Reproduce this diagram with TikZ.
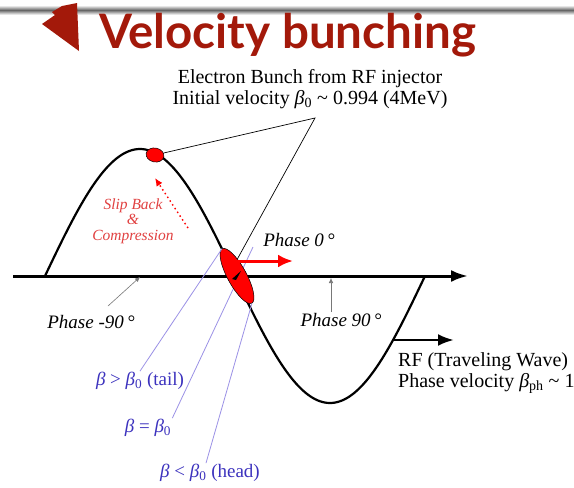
\documentclass[tikz,border=0pt]{standalone}
\usepackage{fontspec}
\setmainfont{Liberation Serif}
\newfontfamily\titlefont{Lato}
\usetikzlibrary{arrows.meta,shapes.geometric}
\definecolor{titlered}{RGB}{163,25,10}
\definecolor{slipred}{RGB}{225,65,65}
\definecolor{labblue}{RGB}{60,50,190}
\definecolor{lavender}{RGB}{155,145,230}
\definecolor{leadgray}{RGB}{120,120,120}
\tikzset{
  txt/.style={font=\fontsize{20}{21}\selectfont, inner sep=1pt},
  phaselab/.style={font=\fontsize{19}{21}\selectfont\itshape, inner sep=1pt},
  bluelab/.style={font=\fontsize{19}{21}\selectfont, text=labblue, inner sep=1pt},
  lav/.style={draw=lavender, line width=0.8pt},
  thinblack/.style={draw=black, line width=0.7pt},
  leader/.style={draw=leadgray, line width=0.6pt, -{Latex[length=5pt,width=4.5pt]}},
  bunchstyle/.style={ellipse, draw=black, line width=0.5pt, fill=red, inner sep=0pt},
}
\begin{document}
\begin{tikzpicture}[x=1pt,y=-1pt]
\useasboundingbox (0,0) rectangle (574,488);
\fill[white] (0,0) rectangle (574,488);
% header bar
\shade[top color=gray!20, bottom color=gray!20, middle color=gray!80!black] (0,6) rectangle (574,14);
\fill[titlered] (42,24) -- (55,15) -- (52,12) -- (62,6) -- (77,3) -- (79,51) -- cycle;
\node[anchor=base west, inner sep=0pt, text=titlered, font=\titlefont\bfseries\fontsize{47.5}{50}\selectfont] (title) at (99,48) {Velocity bunching};

% axis
\coordinate (axl) at (13,276);
\coordinate (axr) at (468,276);
\draw[line width=3pt, -{Latex[length=17pt,width=12pt]}] (axl) -- (axr);

% wave
\draw[line width=2.2pt, line join=round] plot[domain=45:425, samples=160] (\x, {276-127*sin(0.9473684*(\x-45))});

% RF arrow
\coordinate (rfs) at (393,340);
\coordinate (rfe) at (454,340);
\draw[line width=2.8pt, -{Latex[length=16pt,width=12pt]}] (rfs) -- (rfe);

% labels
\node[txt, align=center] (inj) at (310,89) {Electron Bunch from RF injector\\Initial velocity \textit{β}\textsubscript{0} \textasciitilde{} 0.994 (4MeV)};
\node[txt, align=left, anchor=west] (rf) at (397,373) {RF (Traveling Wave)\\Phase velocity \textit{β}\textsubscript{ph} \textasciitilde{} 1};

\node[phaselab] (pm90) at (91,322) {Phase -90\,°};
\node[phaselab] (p90) at (341,320) {Phase 90\,°};
\node[phaselab] (p0) at (299,240) {Phase 0\,°};

\node[bluelab] (tail) at (140,381) {\textit{β} > \textit{β}\textsubscript{0} (tail)};
\node[bluelab] (eq) at (148,428) {\textit{β} = \textit{β}\textsubscript{0}};
\node[bluelab] (head) at (210,473) {\textit{β} < \textit{β}\textsubscript{0} (head)};

\node[font=\fontsize{15.5}{15.5}\selectfont\itshape, text=slipred, align=center, inner sep=0pt] (slip) at (133,221) {Slip Back\\\&\\Compression};

% leaders to axis ticks
\coordinate (tm90) at (140,277);
\coordinate (t90) at (331,278);
\coordinate (lm90s) at (108,306);
\draw[leader] (lm90s) -- (tm90);
\draw[leader] (p90.north -| t90) -- (t90);

% lavender leaders (under bunch)
\coordinate (l2e) at (253,247);
\draw[lav] (eq.north east) -- (l2e);

% bunches
\node[bunchstyle, minimum width=62pt, minimum height=19pt, rotate=-61.5] (bunch) at (237,276) {};
\node[bunchstyle, minimum width=18pt, minimum height=14pt, rotate=-12] (small) at (155,155) {};

\fill (232,279) -- (241,271) -- (236,280) -- cycle;

\draw[lav] (tail.north) -- (bunch.west);
\draw[lav] (head.north) ++(-4,0) coordinate (hn) -- (bunch.east);

% top vertex lines
\coordinate (v) at (315,118);
\draw[thinblack] (small) -- (v) -- (bunch.150);

% red phase-0 arrow
\coordinate (r0s) at (236,261);
\coordinate (r0e) at (293,261);
\draw[red, line width=3pt, -{Latex[length=15pt,width=13pt]}] (r0s) -- (r0e);

% slip back dotted arrow
\coordinate (ds) at (188,228);
\coordinate (de) at (155,178);
\draw[red, line width=1.4pt, dash pattern=on 1.5pt off 3pt, -{Latex[length=8pt,width=7pt]}] (ds) -- (de);
\end{tikzpicture}
\end{document}
